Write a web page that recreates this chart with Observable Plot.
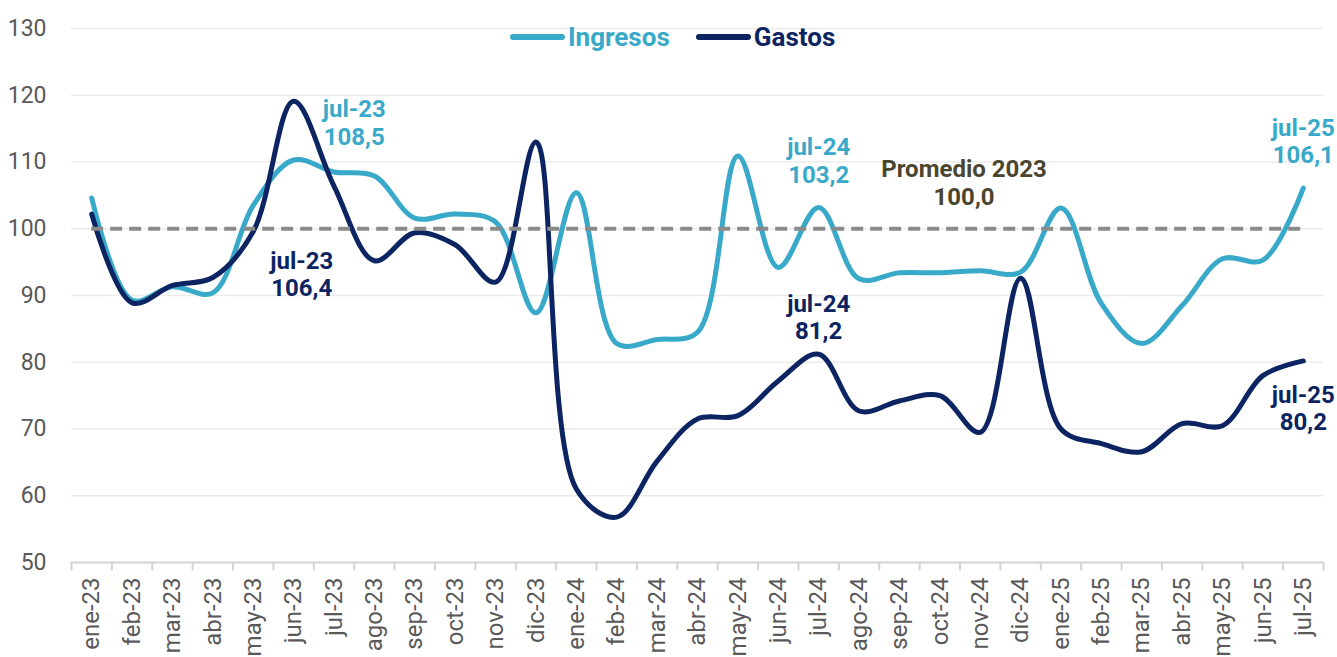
<!DOCTYPE html>
<html><head><meta charset="utf-8">
<script src="https://cdn.jsdelivr.net/npm/d3@7"></script>
<script src="https://cdn.jsdelivr.net/npm/@observablehq/plot@0.6"></script>
<style>
body{margin:0;background:#fff;font-family:Roboto,sans-serif;overflow:hidden}
#wrap{position:relative;width:1337px;height:657px;overflow:hidden}
#legend{position:absolute;top:22px;left:510px;display:flex;align-items:center;font-weight:700;font-size:26px;line-height:30px}
#legend .sw{display:inline-block;width:55px;height:6px;border-radius:3px;margin-right:3px}
#legend .it{display:flex;align-items:center;margin-right:26px}
</style></head><body><div id="wrap"><div id="legend"></div></div>
<script>
const months = ["ene-23","feb-23","mar-23","abr-23","may-23","jun-23","jul-23","ago-23","sep-23","oct-23","nov-23","dic-23",
"ene-24","feb-24","mar-24","abr-24","may-24","jun-24","jul-24","ago-24","sep-24","oct-24","nov-24","dic-24",
"ene-25","feb-25","mar-25","abr-25","may-25","jun-25","jul-25"];
const ingresos = [104.6,89.3,91.3,90.4,103.5,110.3,108.5,107.9,101.6,102.2,101.0,87.4,
105.4,82.8,83.4,84.5,110.9,94.2,103.2,92.5,93.4,93.4,93.7,93.5,
103.1,88.8,82.8,88.5,95.5,95.3,106.1];
const gastos = [102.2,88.9,91.5,92.7,99.6,119.1,106.4,95.2,99.4,97.6,92.0,113.0,
61.0,56.8,65.2,71.5,72.0,77.2,81.2,72.7,74.2,75.0,69.5,92.6,
70.0,67.8,66.6,70.8,70.5,78.0,80.2];
const yTicks = [50,60,70,80,90,100,110,120,130];
const seriesNames = ["Ingresos","Gastos"];
const seriesColors = ["#39a9c9","#0c2462"];
const avgLabel = "Promedio 2023\n100,0";
const avgValue = 100;
const annTexts = ["jul-23\n108,5","jul-23\n106,4","jul-24\n103,2","jul-24\n81,2",avgLabel,"jul-25\n106,1","jul-25\n80,2"];
const annX = [6.5,5.2,18.0,18.0,21.6,30.0,30.0];
const annY = [116.0,93.3,110.3,86.8,107.0,113.2,73.2];
const annColor = ["#39a9c9","#0c2462","#39a9c9","#0c2462","#4b4530","#39a9c9","#0c2462"];

const ingRows = months.map((m,i)=>({i, v: ingresos[i]}));
const gasRows = months.map((m,i)=>({i, v: gastos[i]}));
const anns = annTexts.map((t,k)=>({t, x: annX[k], y: annY[k], c: annColor[k]}));
const bounds = d3.range(months.length+1).map(i=>i-0.5);

const chart = Plot.plot({
  width:1337, height:657,
  marginLeft:71, marginRight:14, marginTop:28, marginBottom:95,
  style:{fontFamily:"Roboto, sans-serif", background:"white"},
  x:{type:"linear", domain:[-0.5, months.length-0.5]},
  y:{domain:[50,130]},
  marks:[
    Plot.gridY(yTicks.filter(d=>d>50), {stroke:"#ebebeb", strokeOpacity:1, strokeWidth:1.5}),
    Plot.ruleY([50], {stroke:"#d3d3d3", strokeWidth:2}),
    Plot.ruleX(bounds, {y1:50, y2:48.75, stroke:"#d3d3d3", strokeWidth:2}),
    Plot.axisY({ticks:yTicks, tickSize:0, tickPadding:25, fontSize:23, fill:"#595959", label:null}),
    Plot.axisX({ticks:d3.range(months.length), tickFormat:i=>months[i], tickRotate:-90, tickSize:0, tickPadding:15, fontSize:24, fill:"#595959", label:null}),
    Plot.line(ingRows, {x:"i", y:"v", stroke:seriesColors[0], strokeWidth:5, curve:"catmull-rom"}),
    Plot.line(gasRows, {x:"i", y:"v", stroke:seriesColors[1], strokeWidth:5, curve:"catmull-rom"}),
    Plot.ruleY([avgValue], {x1:0, x2:months.length-1, stroke:"#8a8a8a", strokeWidth:4, strokeDasharray:"12,7"}),
    Plot.text(anns, {x:"x", y:"y", text:"t", fill:"c", fontSize:24, fontWeight:700, lineHeight:1.15})
  ]
});
document.getElementById("wrap").prepend(chart);
const lg = document.getElementById("legend");
seriesNames.forEach((n,k)=>{
  const it = document.createElement("span"); it.className="it";
  const sw = document.createElement("span"); sw.className="sw"; sw.style.background=seriesColors[k];
  const tx = document.createElement("span"); tx.textContent=n; tx.style.color=seriesColors[k];
  it.append(sw, tx); lg.append(it);
});
</script></body></html>
